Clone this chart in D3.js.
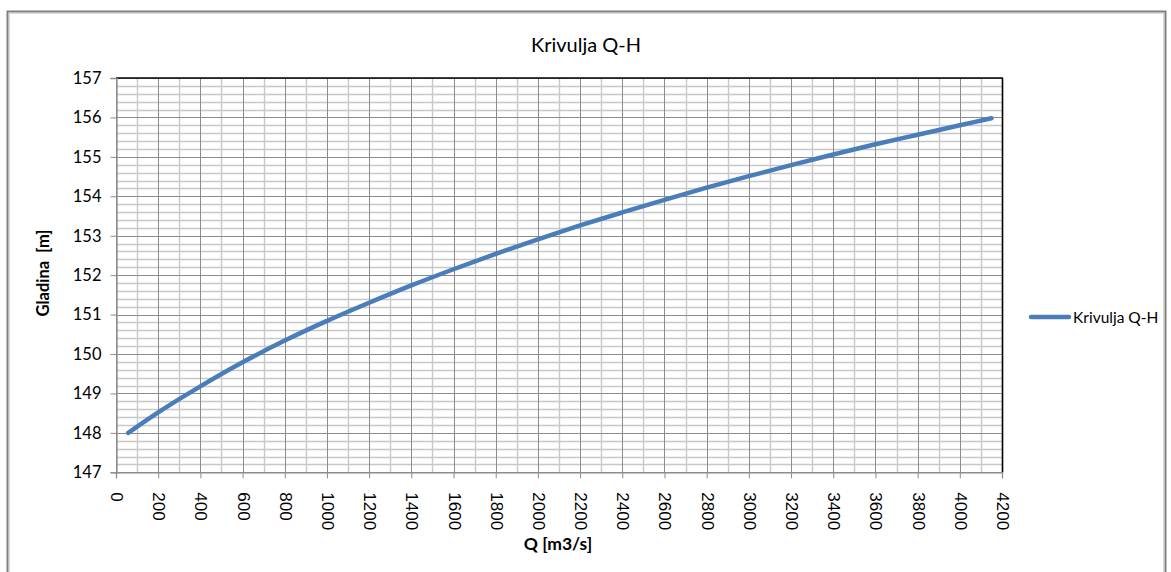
<!DOCTYPE html>
<html><head><meta charset="utf-8">
<script src="https://cdn.jsdelivr.net/npm/d3@7"></script>
<style>html,body{margin:0;padding:0;background:#fff;overflow:hidden}</style>
</head><body>
<svg id="chart" width="1171" height="572"></svg>
<script>
const title = "Krivulja Q-H";
const seriesName = "Krivulja Q-H";
const xTitle = "Q [m3/s]";
const yTitle = "Gladina  [m]";
const qValues = [58, 200, 400, 600, 800, 1000, 1200, 1400, 1600, 1800, 2000, 2200, 2400, 2600, 2800, 3000, 3200, 3400, 3600, 3800, 4000, 4150];
const hValues = [148.0, 148.52, 149.18, 149.79, 150.34, 150.84, 151.3, 151.74, 152.15, 152.54, 152.91, 153.26, 153.59, 153.91, 154.22, 154.51, 154.79, 155.06, 155.32, 155.56, 155.8, 155.98];
const xTicks = [0,200,400,600,800,1000,1200,1400,1600,1800,2000,2200,2400,2600,2800,3000,3200,3400,3600,3800,4000,4200];
const yTicks = [147,148,149,150,151,152,153,154,155,156,157];

const svg = d3.select("#chart");
const L = 116, R = 1002, T = 78, B = 472.3;
const x = d3.scaleLinear().domain([0, 4200]).range([L, R]);
const y = d3.scaleLinear().domain([147, 157]).range([B, T]);

// outer chart border
svg.append("rect").attr("x", 7.5).attr("y", 11.5).attr("width", 1158).attr("height", 600)
  .attr("fill", "#fff").attr("stroke", "#7f7f7f").attr("stroke-width", 2);
svg.append("rect").attr("x", 9.5).attr("y", 13.5).attr("width", 1154).attr("height", 600)
  .attr("fill", "none").attr("stroke", "#d9d9d9").attr("stroke-width", 1);

// minor grid
const xMinor = d3.range(100, 4200, 200);
const yMinor = d3.range(147, 157, 0.2).filter(v => Math.abs(v - Math.round(v)) > 0.01);
const g = svg.append("g");
g.selectAll(".xm").data(xMinor).join("line")
  .attr("x1", d => Math.round(x(d)) + 0.5).attr("x2", d => Math.round(x(d)) + 0.5)
  .attr("y1", T).attr("y2", B).attr("stroke", "#c8c8c8").attr("stroke-width", 1.4);
g.selectAll(".ym").data(yMinor).join("line")
  .attr("y1", d => Math.round(y(d)) + 0.5).attr("y2", d => Math.round(y(d)) + 0.5)
  .attr("x1", L).attr("x2", R).attr("stroke", "#c8c8c8").attr("stroke-width", 1.4);
// major grid
g.selectAll(".xM").data(xTicks).join("line")
  .attr("x1", d => Math.round(x(d)) + 0.5).attr("x2", d => Math.round(x(d)) + 0.5)
  .attr("y1", T).attr("y2", B).attr("stroke", "#8c8c8c").attr("stroke-width", 1);
g.selectAll(".yM").data(yTicks).join("line")
  .attr("y1", d => Math.round(y(d)) + 0.5).attr("y2", d => Math.round(y(d)) + 0.5)
  .attr("x1", L).attr("x2", R).attr("stroke", "#8c8c8c").attr("stroke-width", 1);

// plot border top/right
svg.append("line").attr("x1", L).attr("x2", R + 1).attr("y1", T).attr("y2", T).attr("stroke", "#000").attr("stroke-width", 1.6);
svg.append("line").attr("x1", R + 0.5).attr("x2", R + 0.5).attr("y1", T).attr("y2", B).attr("stroke", "#000").attr("stroke-width", 1.6);

// axes
const yAxis = d3.axisLeft(y).tickValues(yTicks).tickSize(6).tickPadding(9).tickFormat(d3.format("d"));
const ya = svg.append("g").attr("transform", `translate(${L + 0.5},0)`).call(yAxis);
ya.select(".domain").attr("stroke", "#8c8c8c").attr("stroke-width", 1.3);
ya.selectAll(".tick line").attr("stroke", "#8c8c8c");
ya.selectAll(".tick text").attr("font-family", "Lato, 'Open Sans', sans-serif").attr("font-size", 16.5).attr("fill", "#000");

const xAxis = d3.axisBottom(x).tickValues(xTicks).tickSize(6).tickFormat(d3.format("d"));
const xa = svg.append("g").attr("transform", `translate(0,${B})`).call(xAxis);
xa.select(".domain").attr("stroke", "#8c8c8c").attr("stroke-width", 1.3);
xa.selectAll(".tick line").attr("stroke", "#8c8c8c");
xa.selectAll(".tick text")
  .attr("font-family", "'Liberation Sans', Arial, sans-serif").attr("font-size", 17).attr("fill", "#000")
  .attr("text-anchor", "start").attr("dy", null).attr("y", 0)
  .attr("transform", "translate(0,20) rotate(90)")
  .attr("dominant-baseline", "central").attr("x", 0);

// curve
const pts = qValues.map((q, i) => [q, hValues[i]]);
svg.append("path").datum(pts)
  .attr("d", d3.line().x(d => x(d[0])).y(d => y(d[1])).curve(d3.curveMonotoneX))
  .attr("fill", "none").attr("stroke", "#4a7ebb").attr("stroke-width", 4.5)
  .attr("stroke-linecap", "round").attr("stroke-linejoin", "round");

// title
svg.append("text").attr("x", 586).attr("y", 52).attr("text-anchor", "middle")
  .attr("font-family", "Lato, 'Open Sans', sans-serif").attr("font-size", 20).text(title);

// axis titles
svg.append("text").attr("transform", "translate(49,273) rotate(-90)").attr("text-anchor", "middle")
  .attr("font-family", "Lato, 'Open Sans', sans-serif").attr("font-weight", "bold").attr("font-size", 16.5)
  .attr("xml:space", "preserve").style("white-space", "pre").text(yTitle);
svg.append("text").attr("x", 558).attr("y", 550).attr("text-anchor", "middle")
  .attr("font-family", "Lato, 'Open Sans', sans-serif").attr("font-weight", "bold").attr("font-size", 17.5).text(xTitle);

// legend
svg.append("line").attr("x1", 1031).attr("x2", 1069).attr("y1", 317).attr("y2", 317)
  .attr("stroke", "#4a7ebb").attr("stroke-width", 4.5).attr("stroke-linecap", "round");
svg.append("text").attr("x", 1073).attr("y", 317).attr("dominant-baseline", "central")
  .attr("font-family", "Lato, 'Open Sans', sans-serif").attr("font-size", 15.5).text(seriesName);
</script>
</body></html>
